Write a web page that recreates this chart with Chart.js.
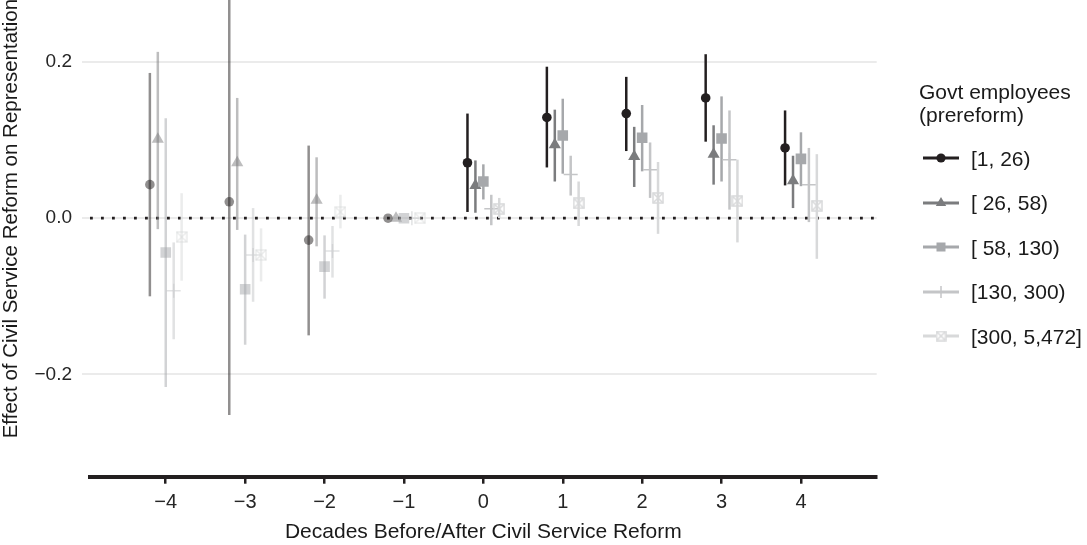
<!DOCTYPE html>
<html>
<head>
<meta charset="utf-8">
<script src="https://cdn.jsdelivr.net/npm/chart.js@4.4.1/dist/chart.umd.min.js"></script>
<style>
  html, body { margin: 0; padding: 0; background: #fff; }
  #wrap { position: relative; width: 1087px; height: 545px; overflow: hidden;
          font-family: "Liberation Sans", Arial, Helvetica, sans-serif; color: #1a1a1a; }
  #plot { position: absolute; left: 0; top: -48px; }
  #legend { position: absolute; left: 919px; top: 0; width: 168px; height: 545px; }
  #legend .ttl { position: absolute; left: 0; font-size: 21px; line-height: 23px; white-space: nowrap; }
  #legend .key { position: absolute; left: 4px; }
  #legend .lab { position: absolute; left: 52px; font-size: 21px; line-height: 23px; white-space: nowrap; }
</style>
</head>
<body>
<div id="wrap">
  <canvas id="plot" width="1087" height="593"></canvas>
  <div id="legend"></div>
</div>
<script>
// Decades relative to the reform
const decades = [-4, -3, -2, -1, 0, 1, 2, 3, 4];

// Size classes of the municipal workforce before reform
const groupNames = ['[1, 26)', '[ 26, 58)', '[ 58, 130)', '[130, 300)', '[300, 5,472]'];

// [1, 26): estimate, lower and upper bound
const est1 = [0.043, 0.021, -0.028, 0, 0.071, 0.129, 0.134, 0.154, 0.090];
const lo1  = [-0.100, -0.252, -0.150, 0, 0.008, 0.065, 0.086, 0.098, 0.042];
const hi1  = [0.186, 0.294, 0.093, 0, 0.134, 0.194, 0.181, 0.210, 0.138];

// [26, 58)
const est2 = [0.101, 0.071, 0.023, 0, 0.042, 0.094, 0.079, 0.082, 0.048];
const lo2  = [-0.014, -0.015, -0.036, 0, 0.007, 0.047, 0.040, 0.043, 0.013];
const hi2  = [0.213, 0.154, 0.078, 0, 0.074, 0.139, 0.117, 0.119, 0.080];

// [58, 130)
const est3 = [-0.044, -0.091, -0.062, 0, 0.047, 0.106, 0.103, 0.102, 0.076];
const lo3  = [-0.216, -0.162, -0.103, 0, 0.024, 0.057, 0.060, 0.047, 0.041];
const hi3  = [0.128, -0.021, -0.022, 0, 0.069, 0.153, 0.145, 0.156, 0.110];

// [130, 300)
const est4 = [-0.093, -0.047, -0.042, 0, 0.012, 0.056, 0.062, 0.075, 0.043];
const lo4  = [-0.155, -0.107, -0.076, 0, -0.009, 0.029, 0.026, 0.011, -0.005];
const hi4  = [-0.031, 0.013, -0.010, 0, 0.030, 0.080, 0.097, 0.138, 0.090];

// [300, 5,472]
const est5 = [-0.024, -0.047, 0.008, 0, 0.012, 0.019, 0.026, 0.022, 0.016];
const lo5  = [-0.080, -0.081, -0.013, 0, 0.000, -0.010, -0.020, -0.031, -0.052];
const hi5  = [0.032, -0.013, 0.030, 0, 0.026, 0.047, 0.072, 0.075, 0.082];

// Y axis tick values
const yTicks = [-0.2, 0, 0.2];

const estimates = [est1, est2, est3, est4, est5];
const lows = [lo1, lo2, lo3, lo4, lo5];
const highs = [hi1, hi2, hi3, hi4, hi5];

// ---- styling ----
const INK = '#231f20';
const baseRGB = [[35, 31, 32], [123, 124, 126], [166, 168, 171], [196, 197, 199], [216, 217, 218]];
const full = c => `rgb(${c[0]},${c[1]},${c[2]})`;
const faded = c => `rgba(${c[0]},${c[1]},${c[2]},0.5)`;
const dodge = 0.1;            // horizontal spacing between size classes
const FONT = '"Liberation Sans", Arial, Helvetica, sans-serif';
const minusFmt = (v, digits) => {
  const s = Math.abs(v).toFixed(digits);
  return v < -1e-9 ? '\u2212' + s : s;
};

// boxed-X marker
function boxX(color, size) {
  const c = document.createElement('canvas');
  c.width = size; c.height = size;
  const g = c.getContext('2d');
  g.strokeStyle = color; g.lineWidth = 1.5;
  const a = 1, b = size - 1;
  g.strokeRect(a, a, b - a, b - a);
  g.beginPath();
  g.moveTo(a, a); g.lineTo(b, b);
  g.moveTo(b, a); g.lineTo(a, b);
  g.stroke();
  return c;
}

const shapes = ['circle', 'triangle', 'rect', 'cross', 'boxX'];
const radii = [4.8, 7, 7.5, 7, 6];

const datasets = estimates.map((est, g) => {
  const colors = decades.map(d => (d < 0 ? faded(baseRGB[g]) : full(baseRGB[g])));
  const style = shapes[g] === 'boxX'
    ? decades.map((d, i) => boxX(colors[i], 12))
    : shapes[g];
  return {
    label: groupNames[g],
    data: decades.map((d, i) => ({ x: d + (g - 2) * dodge, y: est[i], lo: lows[g][i], hi: highs[g][i] })),
    pointStyle: style,
    pointRadius: radii[g],
    pointBackgroundColor: colors,
    pointBorderColor: colors,
    pointBorderWidth: shapes[g] === 'cross' ? 1.5 : 0,
    showLine: false,
    order: 4 - g
  };
});

// vertical interval for each estimate, drawn just beneath its own marker layer
const intervalBars = {
  id: 'intervalBars',
  beforeDatasetDraw(chart, args) {
    const ds = chart.data.datasets[args.index];
    const xs = chart.scales.x, ys = chart.scales.y;
    const ctx = chart.ctx;
    ctx.save();
    ctx.lineWidth = 2.5;
    ctx.lineCap = 'butt';
    ds.data.forEach((p, i) => {
      if (p.hi === p.lo) return;
      const px = xs.getPixelForValue(p.x);
      ctx.strokeStyle = ds.pointBorderColor[i];
      ctx.beginPath();
      ctx.moveTo(px, ys.getPixelForValue(p.lo));
      ctx.lineTo(px, ys.getPixelForValue(p.hi));
      ctx.stroke();
    });
    ctx.restore();
  }
};

// dotted reference line at zero
const zeroLine = {
  id: 'zeroLine',
  beforeDatasetsDraw(chart) {
    const { ctx, chartArea } = chart;
    const y = chart.scales.y.getPixelForValue(0);
    ctx.save();
    ctx.strokeStyle = INK;
    ctx.lineWidth = 2.8;
    ctx.setLineDash([2.8, 8.2]);
    ctx.beginPath();
    ctx.moveTo(chartArea.left, y);
    ctx.lineTo(chartArea.right, y);
    ctx.stroke();
    ctx.restore();
  }
};

new Chart(document.getElementById('plot'), {
  type: 'scatter',
  data: { datasets },
  plugins: [intervalBars, zeroLine],
  options: {
    responsive: false,
    animation: false,
    devicePixelRatio: 1,
    layout: { padding: { left: 0, right: 210.3, top: 0, bottom: 0 } },
    plugins: { legend: { display: false }, tooltip: { enabled: false } },
    scales: {
      x: {
        type: 'linear',
        min: -4.954,
        max: 4.954,
        afterBuildTicks: s => { s.ticks = decades.map(v => ({ value: v })); },
        afterFit: s => { s.height = 68.3; s.paddingLeft = 0; s.paddingRight = 0; },
        grid: { drawOnChartArea: false, drawTicks: true, tickLength: 7, color: INK, lineWidth: 2.5 },
        border: { display: true, color: INK, width: 4 },
        ticks: {
          padding: 7,
          color: '#262626',
          font: { family: FONT, size: 20 },
          callback: v => minusFmt(v, 0),
          maxRotation: 0,
          autoSkip: false
        },
        title: {
          display: true,
          text: 'Decades Before/After Civil Service Reform',
          color: '#1a1a1a',
          font: { family: FONT, size: 21, lineHeight: 1.1 },
          padding: { top: 0, bottom: 1.5 }
        }
      },
      y: {
        type: 'linear',
        min: -0.331,
        max: 0.33,
        afterBuildTicks: s => { s.ticks = yTicks.map(v => ({ value: v })); },
        afterFit: s => { s.width = 90; s.paddingTop = 0; s.paddingBottom = 0; },
        grid: { color: '#ebebeb', lineWidth: 2, drawTicks: true, tickLength: 8, tickColor: '#ebebeb' },
        border: { display: false },
        ticks: {
          padding: 10,
          color: '#262626',
          font: { family: FONT, size: 19 },
          callback: v => minusFmt(v, 1)
        },
        title: {
          display: true,
          text: 'Effect of Civil Service Reform on Representation',
          color: '#1a1a1a',
          font: { family: FONT, size: 20.5, lineHeight: 1.1 },
          padding: { top: 0, bottom: 0 }
        }
      }
    }
  }
});

// ---- legend ----
const legend = document.getElementById('legend');
['Govt employees', '(prereform)'].forEach((t, i) => {
  const d = document.createElement('div');
  d.className = 'ttl';
  d.style.top = (79.5 + i * 23) + 'px';
  d.textContent = t;
  legend.appendChild(d);
});

const keyCenters = [158.3, 202.8, 247.3, 291.7, 336.1];
groupNames.forEach((name, g) => {
  const yc = keyCenters[g];
  const color = full(baseRGB[g]);
  const k = document.createElement('canvas');
  k.className = 'key';
  k.width = 38; k.height = 20;
  k.style.top = (yc - 10) + 'px';
  const c = k.getContext('2d');
  c.strokeStyle = color; c.fillStyle = color;
  c.lineWidth = 3;
  c.beginPath(); c.moveTo(0, 10); c.lineTo(36, 10); c.stroke();
  const cx = 18, cy = 10;
  if (shapes[g] === 'circle') {
    c.beginPath(); c.arc(cx, cy, 4.6, 0, Math.PI * 2); c.fill();
  } else if (shapes[g] === 'triangle') {
    const r = 6;
    c.beginPath();
    c.moveTo(cx, cy - r);
    c.lineTo(cx + r * Math.sin(2 * Math.PI / 3), cy - r * Math.cos(2 * Math.PI / 3));
    c.lineTo(cx + r * Math.sin(4 * Math.PI / 3), cy - r * Math.cos(4 * Math.PI / 3));
    c.closePath(); c.fill();
  } else if (shapes[g] === 'rect') {
    c.fillRect(cx - 4.5, cy - 4.5, 9, 9);
  } else if (shapes[g] === 'cross') {
    c.lineWidth = 1.5;
    c.beginPath(); c.moveTo(cx, cy - 6); c.lineTo(cx, cy + 6); c.stroke();
  } else {
    c.fillStyle = '#fff';
    c.fillRect(cx - 5, cy - 5, 10, 10);
    c.drawImage(boxX(color, 11), cx - 5.5, cy - 5.5);
  }
  legend.appendChild(k);

  const lab = document.createElement('div');
  lab.className = 'lab';
  lab.style.top = (yc - 11.5) + 'px';
  lab.textContent = name;
  legend.appendChild(lab);
});
</script>
</body>
</html>
